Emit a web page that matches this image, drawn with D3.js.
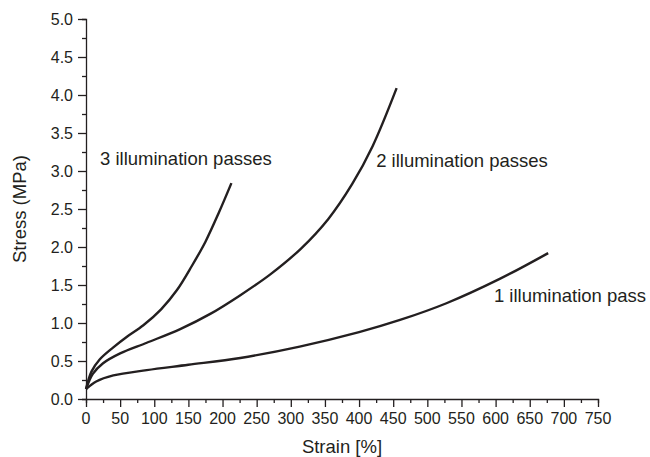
<!DOCTYPE html>
<html>
<head>
<meta charset="utf-8">
<script src="https://cdn.jsdelivr.net/npm/d3@7"></script>
<style>
  html, body { margin: 0; padding: 0; background: #fff; }
  svg { display: block; font-family: "Liberation Sans", Arial, sans-serif; }
</style>
</head>
<body>
<svg id="chart" width="650" height="457"></svg>
<script>
// ---- data ----
const seriesNames = ["1 illumination pass", "2 illumination passes", "3 illumination passes"];
const strain1 = [0, 15, 40, 89, 150, 226, 313, 400, 460, 528, 606, 677];
const stress1 = [0.13, 0.23, 0.31, 0.38, 0.45, 0.54, 0.69, 0.88, 1.04, 1.26, 1.58, 1.92];
const strain2 = [0, 10, 25, 50, 89, 138, 182, 225, 270, 315, 355, 390, 420, 455];
const stress2 = [0.13, 0.33, 0.47, 0.60, 0.74, 0.92, 1.12, 1.36, 1.64, 1.98, 2.37, 2.83, 3.33, 4.09];
const strain3 = [0, 8, 20, 40, 60, 84, 110, 133, 155, 175, 195, 213];
const stress3 = [0.13, 0.36, 0.52, 0.68, 0.82, 0.97, 1.18, 1.43, 1.75, 2.07, 2.46, 2.84];
const xTicks = [0, 50, 100, 150, 200, 250, 300, 350, 400, 450, 500, 550, 600, 650, 700, 750];
const yTicks = [0.0, 0.5, 1.0, 1.5, 2.0, 2.5, 3.0, 3.5, 4.0, 4.5, 5.0];
const xLabel = "Strain [%]";
const yLabel = "Stress (MPa)";

// ---- layout ----
const svg = d3.select("#chart");
const x = d3.scaleLinear().domain([0, 750]).range([86, 598]);
const y = d3.scaleLinear().domain([0, 5]).range([399, 19]);
const ink = "#231f20";

const series = [
  { name: seriesNames[0], pts: strain1.map((d, i) => [d, stress1[i]]), lx: 597.5, ly: 1.27 },
  { name: seriesNames[1], pts: strain2.map((d, i) => [d, stress2[i]]), lx: 425, ly: 3.05 },
  { name: seriesNames[2], pts: strain3.map((d, i) => [d, stress3[i]]), lx: 20.5, ly: 3.08 }
];

// axes
const xMinor = d3.range(0, 751, 25);
const yMinor = d3.range(0, 5.001, 0.25);

const gx = svg.append("g").attr("transform", `translate(0,${y(0)})`);
gx.call(d3.axisBottom(x).tickValues(xMinor).tickSize(4).tickFormat(""));
gx.call(g => g.selectAll(".tick").filter(d => d % 50 === 0).select("line").attr("y2", 8));
gx.selectAll(".tick text").remove();
xTicks.forEach(t => {
  gx.append("text").attr("x", x(t)).attr("y", 25).attr("text-anchor", "middle")
    .attr("font-size", 16).attr("fill", ink).text(t);
});

const gy = svg.append("g").attr("transform", `translate(${x(0)},0)`);
gy.call(d3.axisLeft(y).tickValues(yMinor).tickSize(4).tickFormat(""));
gy.call(g => g.selectAll(".tick").filter(d => Math.abs(d * 2 - Math.round(d * 2)) < 1e-6).select("line").attr("x2", -8));
gy.selectAll(".tick text").remove();
yTicks.forEach(t => {
  gy.append("text").attr("x", -13).attr("y", y(t)).attr("dy", "0.36em").attr("text-anchor", "end")
    .attr("font-size", 16).attr("fill", ink).text(t.toFixed(1));
});

svg.selectAll(".domain").attr("stroke", ink).attr("stroke-width", 1.3);
svg.selectAll(".tick line").attr("stroke", ink).attr("stroke-width", 1.3);

// axis titles
svg.append("text").attr("x", (x(0) + x(750)) / 2).attr("y", 453).attr("text-anchor", "middle")
  .attr("font-size", 18.5).attr("fill", ink).text(xLabel);
svg.append("text").attr("transform", `translate(26,${(y(0) + y(5)) / 2}) rotate(-90)`)
  .attr("text-anchor", "middle").attr("font-size", 18.5).attr("fill", ink).text(yLabel);

// curves
const line = d3.line().x(d => x(d[0])).y(d => y(d[1])).curve(d3.curveCatmullRom.alpha(0.5));
series.forEach(s => {
  svg.append("path").attr("d", line(s.pts)).attr("fill", "none")
    .attr("stroke", ink).attr("stroke-width", 2.4).attr("stroke-linecap", "butt");
});

// curve labels
series.forEach(s => {
  svg.append("text").attr("x", x(s.lx)).attr("y", y(s.ly)).attr("text-anchor", "start")
    .attr("font-size", 18.5).attr("fill", ink).text(s.name);
});
</script>
</body>
</html>
